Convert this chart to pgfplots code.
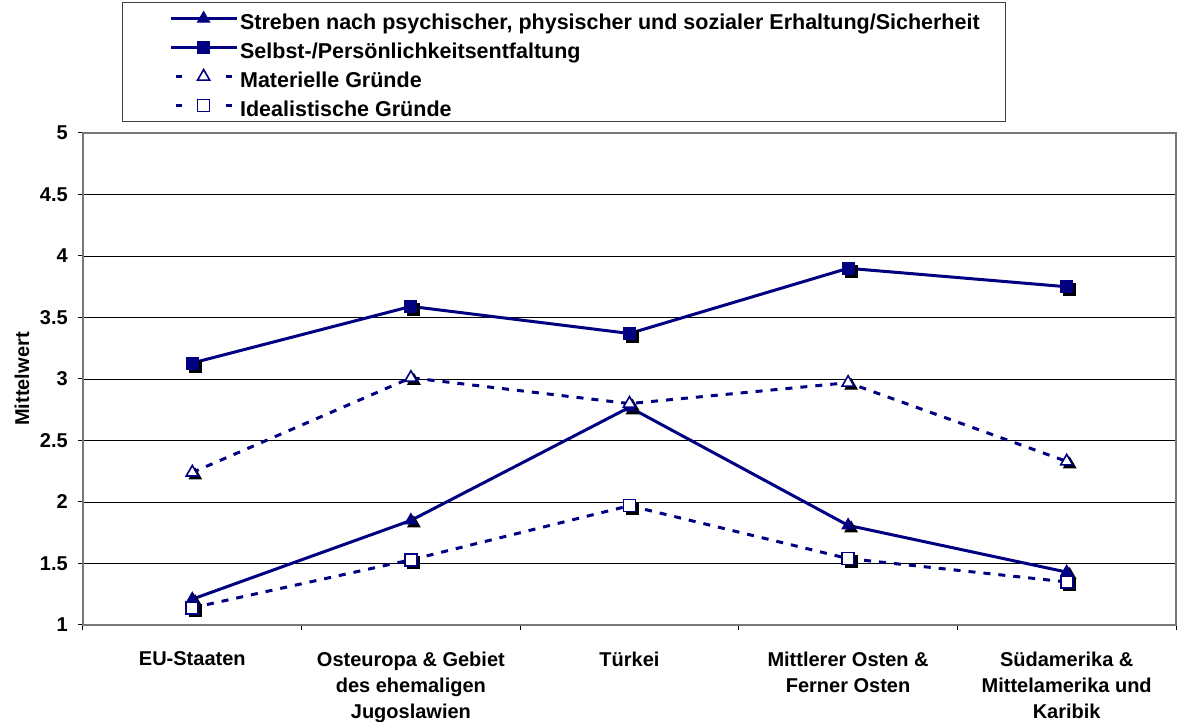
\documentclass[border=0pt]{standalone}
\usepackage{fontspec}
\setmainfont{Liberation Sans}
\usepackage{pgfplots}
\pgfplotsset{compat=1.18}
\definecolor{navy}{RGB}{0,0,128}
\definecolor{framegray}{RGB}{120,120,120}
\newcommand\ff{\fontsize{20}{26}\selectfont\bfseries}
\newcommand\lf{\fontsize{21.5}{24}\selectfont\bfseries}
\pgfplotsset{dashlegend/.style={legend image code/.code={\path[draw=none] (-24pt,0pt) -- (0pt,0pt); \draw[mark repeat=2,mark phase=2,##1, dash pattern=on 6pt off 44pt, dash phase=45pt] plot coordinates {(0pt,0pt) (33pt,0pt) (66pt,0pt)};}}}
\begin{document}
\begin{tikzpicture}
\useasboundingbox (-83pt,-97pt) rectangle (1094pt,625pt);
\begin{axis}[
  scale only axis, width=1093pt, height=492pt,
  xmin=-0.5, xmax=4.5, ymin=1, ymax=5,
  xtick={0,...,4},
  xticklabels={{EU-Staaten},{Osteuropa \& Gebiet\\des ehemaligen\\Jugoslawien},{Türkei},{Mittlerer Osten \&\\Ferner Osten},{Südamerika \&\\Mittelamerika und\\Karibik}},
  minor xtick={-0.5,0.5,...,4.5},
  ytick={1,1.5,...,5},
  tick align=outside, tick pos=left,
  major tick length=5pt, minor tick length=5pt,
  major x tick style={draw=none},
  minor x tick style={draw=black, line width=1pt},
  major y tick style={draw=black, line width=1pt},
  ymajorgrids, y grid style={black, line width=0.9pt},
  axis line style={framegray, line width=1.6pt},
  /pgf/number format/assume math mode=true,
  xticklabel style={font=\ff, align=center, yshift=-18pt},
  yticklabel style={font=\ff, inner xsep=10pt},
  ylabel={Mittelwert},
  every axis y label/.style={at={(axis description cs:-0.0558,0.5)}, rotate=90, anchor=center, font=\ff},
  legend style={at={(axis description cs:0.0357,1.2663)}, anchor=north west, draw=black!75, line width=1.2pt, fill=white, font=\lf, inner xsep=24pt, inner ysep=1.5pt, row sep=0pt, nodes={text height=23pt, text depth=2pt, inner ysep=2pt, inner xsep=2pt}},
  legend cell align=left,
  legend image code/.code={\path[draw=none] (-24pt,0pt) -- (0pt,0pt); \draw[mark repeat=2,mark phase=2,#1] plot coordinates {(0pt,0pt) (33pt,0pt) (66pt,0pt)};},
]
% shadows
\addplot[forget plot, only marks, black, mark=triangle*, mark size=7pt, mark options={xshift=3pt,yshift=-3pt,line width=1pt}] coordinates {(0,1.21) (1,1.85) (2,2.77) (3,1.81) (4,1.43)};
\addplot[forget plot, only marks, black, mark=square*, mark size=6pt, mark options={xshift=3pt,yshift=-3pt,line width=1pt}] coordinates {(0,3.13) (1,3.59) (2,3.37) (3,3.90) (4,3.75)};
\addplot[forget plot, only marks, black, mark=triangle*, mark size=7pt, mark options={xshift=3pt,yshift=-3pt,line width=1pt}] coordinates {(0,2.24) (1,3.01) (2,2.80) (3,2.97) (4,2.33)};
\addplot[forget plot, only marks, black, mark=square*, mark size=6pt, mark options={xshift=3pt,yshift=-3pt,line width=1pt}] coordinates {(0,1.14) (1,1.53) (2,1.97) (3,1.54) (4,1.35)};
% series
\addplot[navy, line width=3pt, mark=triangle*, mark size=7pt, mark options={solid, fill=navy, line width=1pt}] coordinates {(0,1.21) (1,1.85) (2,2.77) (3,1.81) (4,1.43)};
\addlegendentry{Streben nach psychischer, physischer und sozialer Erhaltung/Sicherheit}
\addplot[navy, line width=3pt, mark=square*, mark size=6pt, mark options={solid, fill=navy, line width=1pt}] coordinates {(0,3.13) (1,3.59) (2,3.37) (3,3.90) (4,3.75)};
\addlegendentry{Selbst-/Persönlichkeitsentfaltung}
\addplot[navy, line width=3pt, dash pattern=on 7pt off 8pt, mark=triangle*, mark size=7pt, mark options={solid, fill=white, draw=navy, line width=1.6pt}, dashlegend] coordinates {(0,2.24) (1,3.01) (2,2.80) (3,2.97) (4,2.33)};
\addlegendentry{Materielle Gründe}
\addplot[navy, line width=3pt, dash pattern=on 7pt off 8pt, mark=square*, mark size=6pt, mark options={solid, fill=white, draw=navy, line width=1.6pt}, dashlegend] coordinates {(0,1.14) (1,1.53) (2,1.97) (3,1.54) (4,1.35)};
\addlegendentry{Idealistische Gründe}
\end{axis}
\end{tikzpicture}
\end{document}
